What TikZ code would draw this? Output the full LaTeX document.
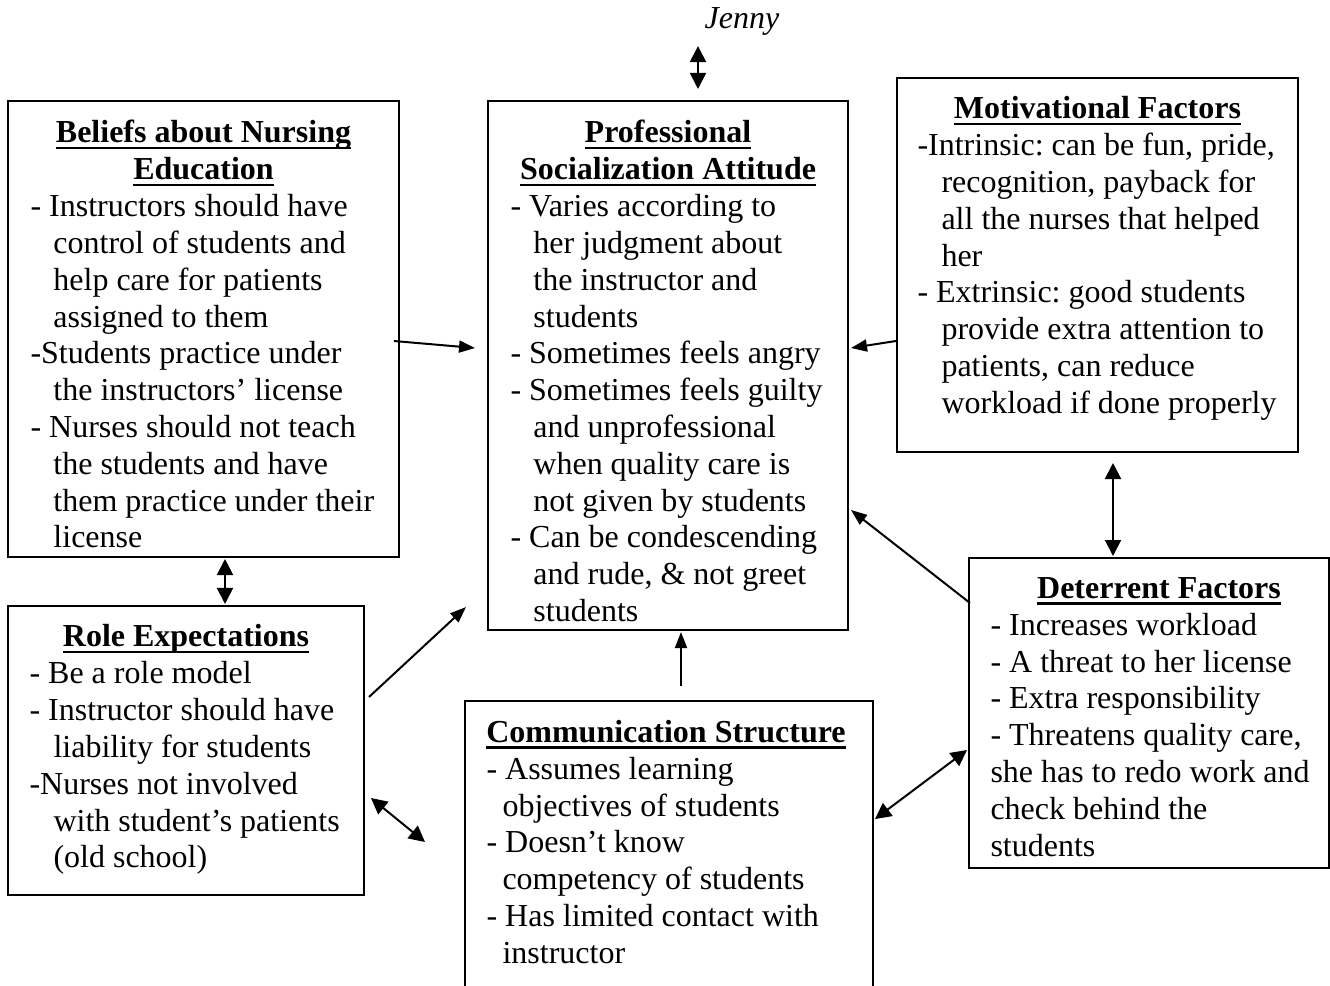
\documentclass[tikz,border=0pt]{standalone}
\usepackage{fontspec}
\setmainfont{Liberation Serif}
\usetikzlibrary{arrows.meta}
\newcommand\ulhead[1]{\setbox0\hbox{\textbf{#1}}\rlap{\rule[-2.3pt]{\wd0}{0.9pt}}\box0}
\newcommand\ind[1][8.6pt]{\hspace*{#1}}
\begin{document}
\frenchspacing
\begin{tikzpicture}[x=0.375pt,y=-0.375pt,
  font=\fontsize{12pt}{13.8pt}\selectfont,
  box/.style={draw,line width=0.75pt,inner sep=0pt},
  head/.style={anchor=north,inner sep=0pt,align=center},
  body/.style={anchor=north west,inner sep=0pt,align=left},
  link/.style={line width=0.75pt,-{Triangle[length=6pt,width=4.5pt]}},
  dlink/.style={line width=0.75pt,{Triangle[length=6pt,width=6pt]}-{Triangle[length=6pt,width=6pt]}}]
\clip (0,0) rectangle (1330,986);
% boxes
\node[box,minimum width=146.6pt,minimum height=171pt](beliefs) at (203.5,329){};
\node[box,minimum width=135pt,minimum height=198.4pt](prof) at (668,365.5){};
\node[box,minimum width=150.4pt,minimum height=140.25pt](motiv) at (1097.5,265){};
\node[box,minimum width=133.5pt,minimum height=108.4pt](role) at (186,750.5){};
\node[box,minimum width=153pt,minimum height=112.1pt](comm) at (669,850.5){};
\node[box,minimum width=135pt,minimum height=116.25pt](deter) at (1149,713){};
% texts
\node[anchor=north,inner sep=0pt](jenny) at (742,2.2){\strut\textit{Jenny}};
\node[head](beliefs-h) at (203.5,116.7){\strut\ulhead{Beliefs about Nursing}\\\ulhead{Education}};
\node[body](beliefs-b) at (30,190.3){\strut- Instructors should have\\
\ind control of students and\\
\ind help care for patients\\
\ind assigned to them\\
-Students practice under\\
\ind the instructors’ license\\
- Nurses should not teach\\
\ind the students and have\\
\ind them practice under their\\
\ind license};
\node[head](prof-h) at (668,116.7){\strut\ulhead{Professional}\\\ulhead{Socialization Attitude}};
\node[body](prof-b) at (510,190.3){\strut- Varies according to\\
\ind her judgment about\\
\ind the instructor and\\
\ind students\\
- Sometimes feels angry\\
- Sometimes feels guilty\\
\ind and unprofessional\\
\ind when quality care is\\
\ind not given by students\\
- Can be condescending\\
\ind and rude, \& not greet\\
\ind students};
\node[head](motiv-h) at (1097.5,92.7){\strut\ulhead{Motivational Factors}};
\node[body](motiv-b) at (917,129.5){\strut-Intrinsic: can be fun, pride,\\
\ind[9pt]recognition, payback for\\
\ind[9pt]all the nurses that helped\\
\ind[9pt]her\\
- Extrinsic: good students\\
\ind[9pt]provide extra attention to\\
\ind[9pt]patients, can reduce\\
\ind[9pt]workload if done properly};
\node[head](role-h) at (186,620.7){\strut\ulhead{Role Expectations}};
\node[body](role-b) at (29,657.5){\strut- Be a role model\\
- Instructor should have\\
\ind[9pt]liability for students\\
-Nurses not involved\\
\ind[9pt]with student’s patients\\
\ind[9pt](old school)};
\node[head](comm-h) at (666,716.2){\strut\ulhead{Communication Structure}};
\node[body](comm-b) at (486,753){\strut- Assumes learning\\
\ind[6pt]objectives of students\\
- Doesn’t know\\
\ind[6pt]competency of students\\
- Has limited contact with\\
\ind[6pt]instructor};
\node[head](deter-h) at (1159,572.2){\strut\ulhead{Deterrent Factors}};
\node[body](deter-b) at (990,609){\strut- Increases workload\\
- A threat to her license\\
- Extra responsibility\\
- Threatens quality care,\\
she has to redo work and\\
check behind the\\
students};
% connectors
\draw[dlink]([shift={(-44,6)}]jenny.south)--([shift={(30,-11)}]prof.north);
\draw[link]([shift={(-6,12)}]beliefs.east)--([shift={(-12,-17.5)}]prof.west);
\draw[link]([shift={(0,76)}]motiv.west)--([shift={(2,-17.5)}]prof.east);
\draw[dlink]([shift={(21.5,1)}]beliefs.south)--([shift={(39,-1)}]role.north);
\draw[link]([shift={(4,-53.5)}]role.east)--([shift={(-21,-24)}]prof.south west);
\draw[dlink]([shift={(6,47.5)}]role.east)--([shift={(-39,142)}]comm.north west);
\draw[link]([shift={(12,-14)}]comm.north)--([shift={(13,1)}]prof.south);
\draw[link]([shift={(2,46)}]deter.north west)--([shift={(2,144.5)}]prof.east);
\draw[dlink]([shift={(15.5,10)}]motiv.south)--([shift={(-36,-1)}]deter.north);
\draw[dlink]([shift={(1,119)}]comm.north east)--([shift={(-1,37)}]deter.west);
\end{tikzpicture}
\end{document}
